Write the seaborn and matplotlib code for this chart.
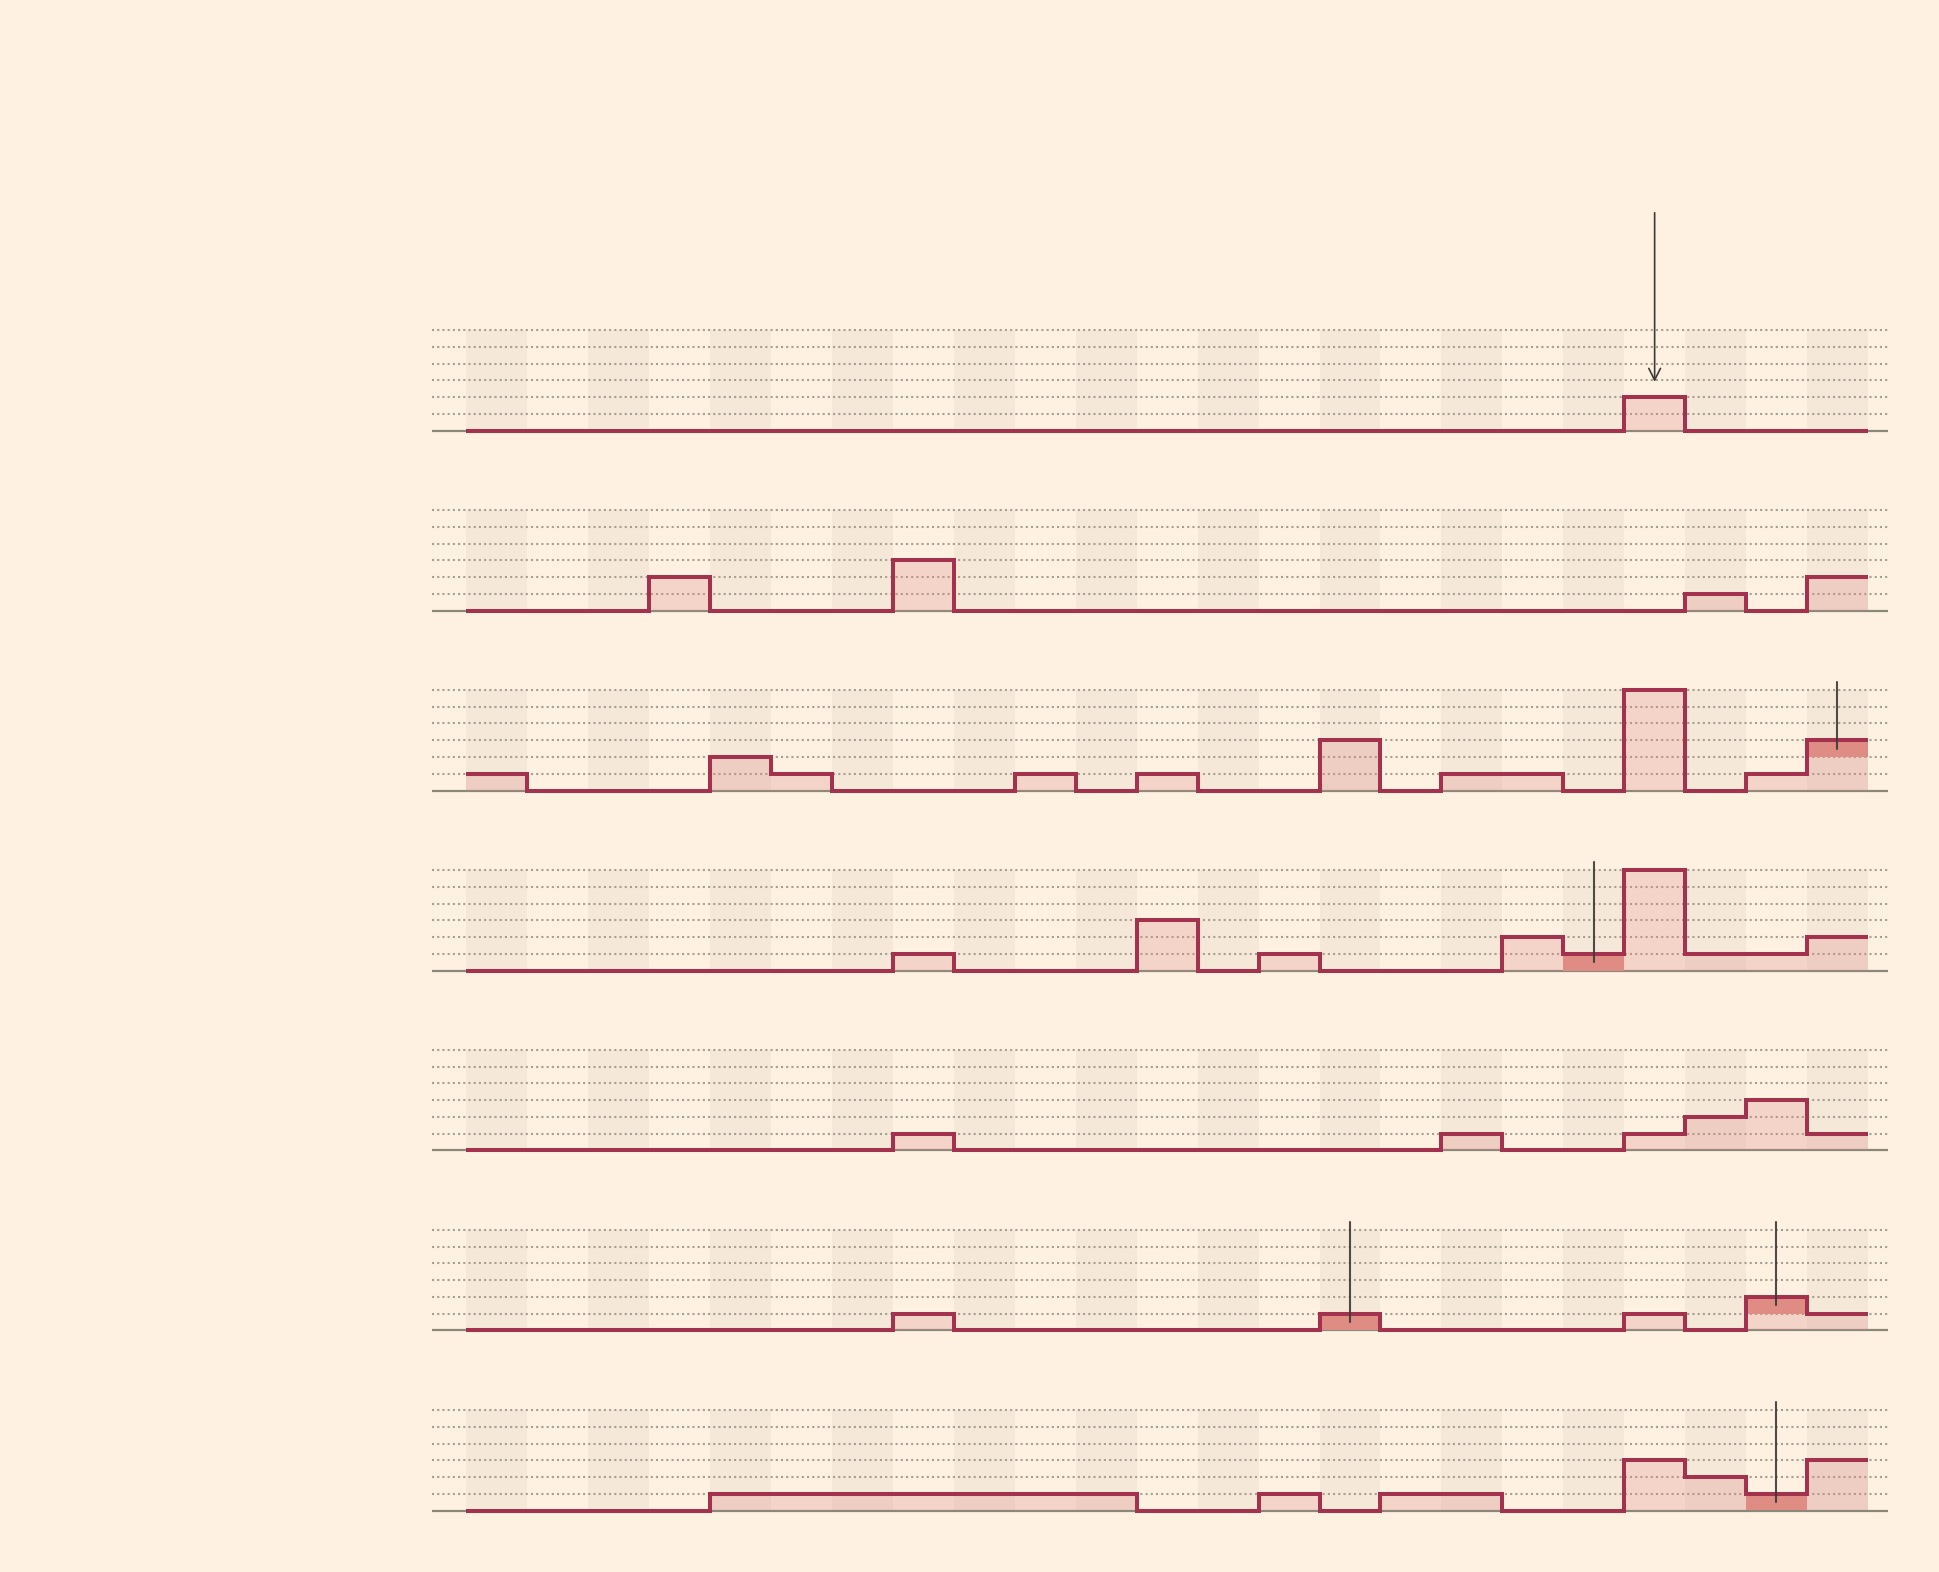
import numpy as np
import pandas as pd
import matplotlib.pyplot as plt
import seaborn as sns

# counts per bin, one list per row (23 bins)
row1 = [0, 0, 0, 0, 0, 0, 0, 0, 0, 0, 0, 0, 0, 0, 0, 0, 0, 0, 0, 2, 0, 0, 0]
row2 = [0, 0, 0, 2, 0, 0, 0, 3, 0, 0, 0, 0, 0, 0, 0, 0, 0, 0, 0, 0, 1, 0, 2]
row3 = [1, 0, 0, 0, 2, 1, 0, 0, 0, 1, 0, 1, 0, 0, 3, 0, 1, 1, 0, 6, 0, 1, 3]
row4 = [0, 0, 0, 0, 0, 0, 0, 1, 0, 0, 0, 3, 0, 1, 0, 0, 0, 2, 1, 6, 1, 1, 2]
row5 = [0, 0, 0, 0, 0, 0, 0, 1, 0, 0, 0, 0, 0, 0, 0, 0, 1, 0, 0, 1, 2, 3, 1]
row6 = [0, 0, 0, 0, 0, 0, 0, 1, 0, 0, 0, 0, 0, 0, 1, 0, 0, 0, 0, 1, 0, 2, 1]
row7 = [0, 0, 0, 0, 1, 1, 1, 1, 1, 1, 1, 0, 0, 1, 0, 1, 1, 0, 0, 3, 2, 1, 3]
rows = [row1, row2, row3, row4, row5, row6, row7]

# highlighted bins (top unit darker + marker line)
marks = [[], [], [22], [18], [], [14, 21], [21]]
arrow_row, arrow_bin = 0, 19

BG = '#fef1e1'
SHADE = '#f5e8d8'
LINE = '#a3324f'
FILL = '#dc8787'
DARK = '#df8c84'
GRID = '#a79f94'
BASE = '#8a887a'
INK = '#3d3935'

sns.set_theme(style='white', rc={'figure.facecolor': BG, 'axes.facecolor': 'none'})

fig = plt.figure(figsize=(19.4, 15.72), dpi=100)
W, H = 1940, 1572
unit = 16.75
nb = 23
edges = np.arange(nb + 1)

for r, vals in enumerate(rows):
    base_px = 430.5 + 180 * r
    lo, hi = -0.2, 6.2
    bottom = 1 - (base_px - lo * unit) / H
    height = (hi - lo) * unit / H
    ax = fig.add_axes([432 / W, bottom, (1888 - 432) / W, height])
    ax.set_xlim(-0.566, 23.33)
    ax.set_ylim(lo, hi)
    ax.axis('off')

    # alternating column shading
    for i in range(0, nb, 2):
        ax.fill_between([i, i + 1], 0, 6, color=SHADE, lw=0, zorder=0)
    # dotted grid
    for g in range(1, 7):
        ax.axhline(g, color=GRID, lw=1.5, ls=(0, (1, 1.5)), zorder=1)
    ax.axhline(0, color=BASE, lw=1.6, zorder=2)

    df = pd.DataFrame({'x': edges, 'y': vals + [vals[-1]]})
    ax.fill_between(df['x'], 0, df['y'], step='post', color=FILL, alpha=0.27, lw=0, zorder=3)
    for b in marks[r]:
        ax.fill_between([b, b + 1], vals[b] - 1, vals[b], color=DARK, lw=0, zorder=4)
    sns.lineplot(data=df, x='x', y='y', ax=ax, drawstyle='steps-post', color=LINE,
                 lw=2.9, solid_joinstyle='miter', solid_capstyle='butt', zorder=5)
    ax.set_xlim(-0.566, 23.33)
    ax.set_ylim(lo, hi)
    ax.axis('off')

    for b in marks[r]:
        ax.plot([b + 0.5, b + 0.5], [6.5, vals[b] - 0.5], color=INK, lw=1.5,
                alpha=0.9, clip_on=False, zorder=6)

    if r == arrow_row:
        ax.annotate('', xy=(arrow_bin + 0.5, 2.9), xytext=(arrow_bin + 0.5, 13.0),
                    arrowprops=dict(arrowstyle='->,head_width=0.35,head_length=0.7',
                                    color=INK, lw=1.2, shrinkA=0, shrinkB=0),
                    annotation_clip=False, zorder=6)

fig.savefig('out.png', dpi=100, facecolor=BG)
